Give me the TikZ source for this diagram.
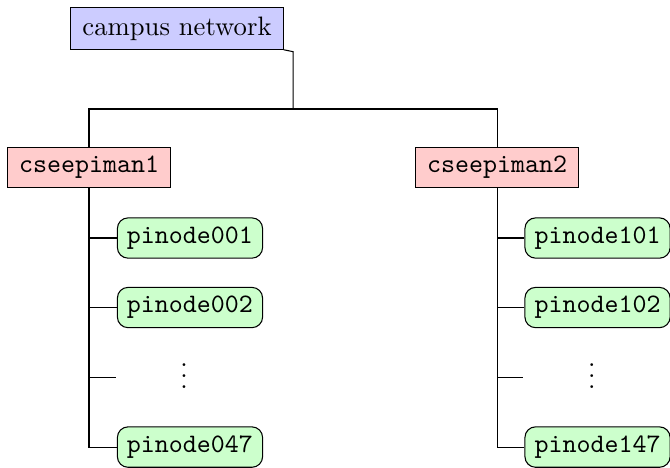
\documentclass[tikz,border=0pt]{standalone}
\usepackage{tikz}

\begin{document}
\begin{tikzpicture}[
  netbox/.style={draw, fill=blue!20, inner xsep=4.4pt},
  headbox/.style={draw, fill=red!20, inner xsep=4.4pt, font=\ttfamily},
  pibox/.style={draw, fill=green!20, rounded corners=4pt, inner xsep=3.6pt, font=\ttfamily}]
\useasboundingbox (0,0) rectangle (8.83,-6.155);
% Red del campus
\node[netbox] (campus) at (2.333,-0.376) {campus network};
% Nodos cabecera
\node[headbox] (head1) at (1.173,-2.208) {cseepiman1};
\node[headbox] (head2) at (6.551,-2.208) {cseepiman2};
% Reparto
\coordinate (bend) at (3.862,-0.681);
\coordinate (split) at (3.862,-1.437);
\draw (campus.south east) -- (bend) -- (split);
\draw (head1.north) |- (split) -| (head2.north);
% Nodos de cómputo, cseepiman1
\node[pibox] (pi001) at (2.504,-3.137) {pinode001};
\node[pibox] (pi002) at (2.504,-4.053) {pinode002};
\node (dots1) at (2.425,-4.85) {$\vdots$};
\node[pibox] (pi047) at (2.504,-5.892) {pinode047};
\coordinate (gap1) at (1.529,-4.969);
\draw (head1.south) |- (pi047.west);
\draw (head1.south |- pi001.west) -- (pi001.west);
\draw (head1.south |- pi002.west) -- (pi002.west);
\draw (head1.south |- gap1) -- (gap1);
% Nodos de cómputo, cseepiman2
\node[pibox] (pi101) at (7.875,-3.137) {pinode101};
\node[pibox] (pi102) at (7.875,-4.053) {pinode102};
\node (dots2) at (7.799,-4.85) {$\vdots$};
\node[pibox] (pi147) at (7.875,-5.892) {pinode147};
\coordinate (gap2) at (6.893,-4.969);
\draw (head2.south) |- (pi147.west);
\draw (head2.south |- pi101.west) -- (pi101.west);
\draw (head2.south |- pi102.west) -- (pi102.west);
\draw (head2.south |- gap2) -- (gap2);
\end{tikzpicture}
\end{document}
